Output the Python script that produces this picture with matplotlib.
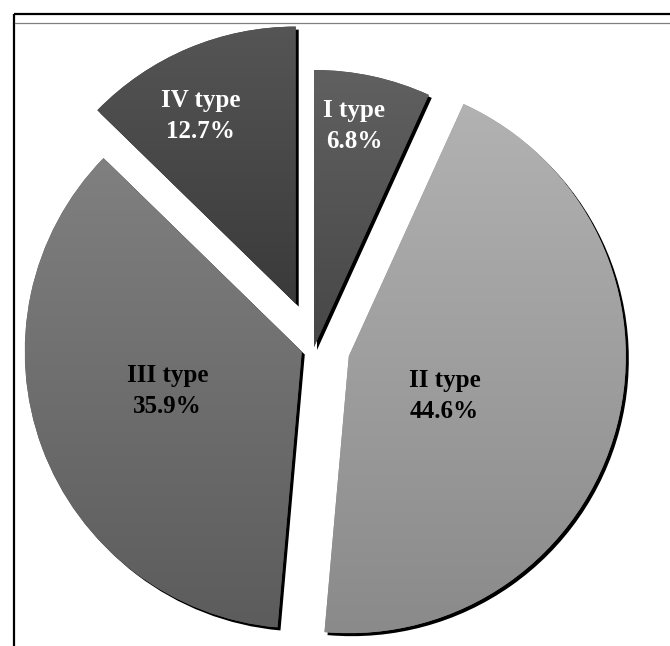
import numpy as np
import matplotlib
matplotlib.use('Agg')
import matplotlib.pyplot as plt
from matplotlib.patches import Wedge
from matplotlib.colors import LinearSegmentedColormap

labels = ['I type', 'II type', 'III type', 'IV type']
shares = [6.8, 44.6, 35.9, 12.7]
explode = [0.0, 0.13, 0.047, 0.17]          # fraction of radius

# look
top_colors = ['#606060', '#b2b2b2', '#808080', '#555555']
bottom_colors = ['#474747', '#8a8a8a', '#5c5c5c', '#3a3a3a']
text_colors = ['white', 'black', 'black', 'white']
label_dist = [0.81, 0.375, 0.505, 0.76]
label_turn = [2, -8, -4, 4]                 # degrees off the mid angle

W, H = 670, 646
R = 277
fig = plt.figure(figsize=(W / 100, H / 100), dpi=100)
ax = fig.add_axes([0, 0, 1, 1])

wedges, _ = ax.pie(shares, explode=[e * R for e in explode], radius=R,
                   center=(314, 299), startangle=90, counterclock=False,
                   colors=bottom_colors, wedgeprops=dict(linewidth=0))

for i, w in enumerate(wedges):
    cx, cy = w.center
    # drop shadow
    sh = Wedge((cx + 3, cy - 3), w.r, w.theta1, w.theta2,
               facecolor='black', linewidth=0, zorder=0.5)
    ax.add_patch(sh)
    # vertical gradient clipped to the slice
    ext = w.get_path().get_extents()
    cmap = LinearSegmentedColormap.from_list('g%d' % i, [bottom_colors[i], top_colors[i]])
    grad = np.linspace(0, 1, 256).reshape(-1, 1)
    im = ax.imshow(grad, cmap=cmap, extent=[ext.x0, ext.x1, ext.y0, ext.y1],
                   origin='lower', aspect='auto', zorder=1.5, interpolation='bilinear')
    im.set_clip_path(w)
    # label
    mid = np.deg2rad((w.theta1 + w.theta2) / 2 + label_turn[i])
    tx = cx + label_dist[i] * R * np.cos(mid)
    ty = cy + label_dist[i] * R * np.sin(mid)
    ax.text(tx, ty, labels[i] + '\n' + ('%.1f%%' % shares[i]), ha='center', va='center',
            fontsize=18, fontweight='bold', family='Liberation Serif',
            color=text_colors[i], linespacing=1.45, zorder=3)

# frame pieces
ax.plot([14, 14], [0, 632], color='black', lw=1.6, solid_capstyle='butt', clip_on=False)
ax.plot([14, W], [632, 632], color='black', lw=1.6, solid_capstyle='butt', clip_on=False)
ax.plot([15, W], [623, 623], color='#808080', lw=0.9, clip_on=False)

ax.set_xlim(0, W)
ax.set_ylim(0, H)
ax.set_aspect('auto')
ax.axis('off')

fig.savefig('out.png', dpi=100)
